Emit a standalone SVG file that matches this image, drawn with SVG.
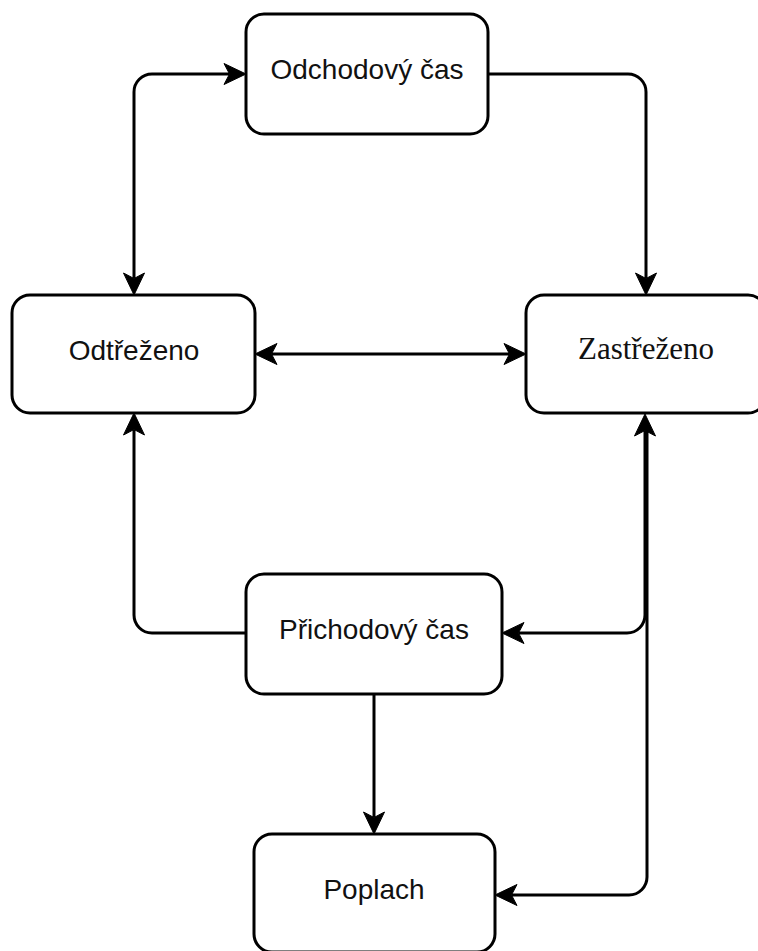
<svg xmlns="http://www.w3.org/2000/svg" width="758" height="951" viewBox="0 0 758 951">
  <style>
    .box { fill: #ffffff; stroke: #000000; stroke-width: 3; }
    .lbl { font-family: "Liberation Sans", Arial, sans-serif; font-size: 28px; fill: #111111; text-anchor: middle; }
    .lbl-serif { font-family: "Liberation Serif", "Times New Roman", serif; font-size: 31px; fill: #111111; text-anchor: middle; }
    .edge { fill: none; stroke: #000000; stroke-width: 3; }
    .both { marker-start: url(#arr); marker-end: url(#arr); }
    .end { marker-end: url(#arr); }
  </style>
  <defs>
    <!-- classic notched arrowhead; the line ends at the notch -->
    <marker id="arr" markerUnits="userSpaceOnUse" markerWidth="24" markerHeight="24" refX="5.5" refY="11" orient="auto-start-reverse" overflow="visible">
      <path d="M0,0.5 L22,11 L0,21.5 L5.5,11 Z" fill="#000000" stroke="#000000" stroke-width="1" stroke-linejoin="miter"/>
    </marker>
  </defs>

  <g id="connectors">
    <!-- Odtřeženo <-> Odchodový čas -->
    <path class="edge both" d="M134,278.5 V92 A18,18 0 0 1 152,74 H229.5"/>
    <!-- Odchodový čas -> Zastřeženo -->
    <path class="edge end" d="M488,74 H628 A18,18 0 0 1 646,92 V278.5"/>
    <!-- Odtřeženo <-> Zastřeženo -->
    <path class="edge both" d="M271.5,354 H509.5"/>
    <!-- Příchodový čas -> Odtřeženo -->
    <path class="edge end" d="M246,633 H152 A18,18 0 0 1 134,615 V429.5"/>
    <!-- Zastřeženo <-> Příchodový čas -->
    <path class="edge both" d="M645,430.5 V615 A18,18 0 0 1 627,633 H518.5"/>
    <!-- Zastřeženo -> Poplach -->
    <path class="edge end" d="M647,428 V877 A18,18 0 0 1 629,895 H511.5"/>
    <!-- Příchodový čas -> Poplach -->
    <path class="edge end" d="M374,694 V817.5"/>
  </g>

  <g id="odchodovy-cas">
    <rect class="box" x="246" y="14" width="242" height="120" rx="18" ry="18"/>
    <text class="lbl" x="367" y="79">Odchodový čas</text>
  </g>

  <g id="odtrezeno">
    <rect class="box" x="12" y="295" width="243" height="118" rx="18" ry="18"/>
    <text class="lbl" x="134" y="360">Odtřeženo</text>
  </g>

  <g id="zastrezeno">
    <rect class="box" x="526" y="295" width="240" height="118" rx="18" ry="18"/>
    <text class="lbl-serif" x="646" y="359">Zastřeženo</text>
  </g>

  <g id="prichodovy-cas">
    <rect class="box" x="246" y="574" width="256" height="120" rx="18" ry="18"/>
    <text class="lbl" x="374" y="639">Přichodový čas</text>
  </g>

  <g id="poplach">
    <rect class="box" x="254" y="834" width="241" height="118" rx="18" ry="18"/>
    <text class="lbl" x="374" y="899">Poplach</text>
  </g>
</svg>
